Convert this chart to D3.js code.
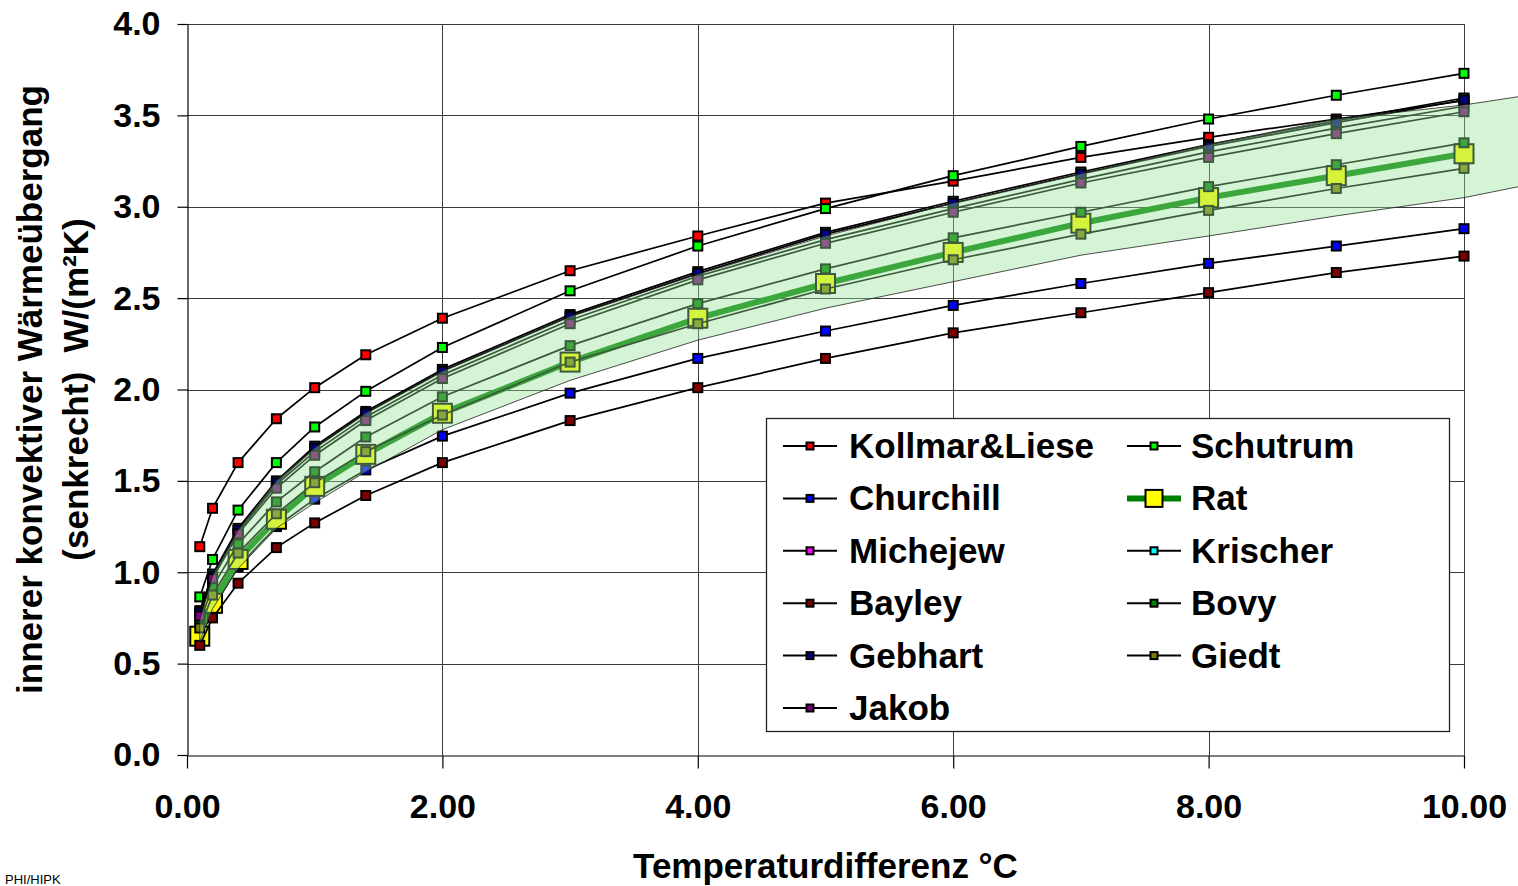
<!DOCTYPE html>
<html><head><meta charset="utf-8">
<script src="https://cdn.jsdelivr.net/npm/d3@7"></script>
<style>
html,body{margin:0;padding:0;background:#fff;overflow:hidden}
svg{display:block}
text{font-family:"Liberation Sans",Arial,sans-serif}
</style></head><body>
<svg id="chart" width="1518" height="886"></svg>
<script>
// ---------- data ----------
const xValues = [0.1, 0.2, 0.4, 0.7, 1.0, 1.4, 2, 3, 4, 5, 6, 7, 8, 9, 10];

const kollmarLiese = [1.14, 1.35, 1.60, 1.84, 2.01, 2.19, 2.39, 2.65, 2.84, 3.02, 3.14, 3.27, 3.38, 3.48, 3.58];
const schutrum     = [0.865, 1.07, 1.34, 1.60, 1.795, 1.99, 2.23, 2.54, 2.785, 2.99, 3.17, 3.33, 3.48, 3.61, 3.73];
const churchill    = [0.64, 0.80, 1.03, 1.25, 1.40, 1.56, 1.745, 1.98, 2.17, 2.32, 2.46, 2.58, 2.69, 2.785, 2.88];
const rat          = [0.65, 0.83, 1.07, 1.29, 1.47, 1.645, 1.87, 2.15, 2.39, 2.58, 2.75, 2.91, 3.05, 3.17, 3.29];
const michejew     = [0.77, 0.97, 1.22, 1.48, 1.66, 1.85, 2.08, 2.38, 2.62, 2.82, 2.99, 3.15, 3.30, 3.43, 3.55];
const krischer     = [0.79, 0.99, 1.24, 1.50, 1.69, 1.88, 2.11, 2.41, 2.645, 2.86, 3.03, 3.19, 3.34, 3.47, 3.595];
const bayley       = [0.60, 0.75, 0.94, 1.135, 1.27, 1.42, 1.60, 1.83, 2.01, 2.17, 2.31, 2.42, 2.53, 2.64, 2.73];
const bovy         = [0.73, 0.92, 1.155, 1.385, 1.55, 1.74, 1.96, 2.24, 2.47, 2.66, 2.83, 2.97, 3.11, 3.23, 3.35];
const gebhart      = [0.78, 0.98, 1.23, 1.49, 1.68, 1.87, 2.10, 2.40, 2.635, 2.85, 3.02, 3.18, 3.33, 3.46, 3.585];
const giedt        = [0.695, 0.875, 1.105, 1.32, 1.49, 1.66, 1.86, 2.15, 2.36, 2.55, 2.71, 2.85, 2.98, 3.10, 3.21];
const jakob        = [0.76, 0.965, 1.21, 1.46, 1.64, 1.83, 2.06, 2.36, 2.60, 2.80, 2.97, 3.13, 3.27, 3.40, 3.52];

// shaded range band (extends past the last category)
const bandX     = [0.1, 0.2, 0.4, 0.7, 1.0, 1.4, 2, 3, 4, 5, 6, 7, 8, 9, 10, 10.5];
const bandUpper = [0.74, 0.98, 1.23, 1.50, 1.68, 1.87, 2.10, 2.40, 2.63, 2.84, 3.02, 3.18, 3.34, 3.48, 3.557, 3.61];
const bandLower = [0.62, 0.80, 1.02, 1.24, 1.38, 1.55, 1.78, 2.05, 2.27, 2.445, 2.59, 2.735, 2.84, 2.95, 3.05, 3.12];

const yTicks = [0, 0.5, 1.0, 1.5, 2.0, 2.5, 3.0, 3.5, 4.0];
const xTicks = [0, 2, 4, 6, 8, 10];

const seriesNames  = ["Kollmar&Liese", "Schutrum", "Churchill", "Rat", "Michejew", "Krischer", "Bayley", "Bovy", "Gebhart", "Giedt", "Jakob"];
const seriesValues = [kollmarLiese, schutrum, churchill, rat, michejew, krischer, bayley, bovy, gebhart, giedt, jakob];
const seriesColors = ["#ff0000", "#00ff00", "#0000ff", "#ffff00", "#ff00ff", "#00ffff", "#800000", "#008000", "#000080", "#808000", "#800080"];
const legendCol1 = ["Kollmar&Liese", "Churchill", "Michejew", "Bayley", "Gebhart", "Jakob"];
const legendCol2 = ["Schutrum", "Rat", "Krischer", "Bovy", "Giedt"];

const xTitle = "Temperaturdifferenz °C";
const yTitle1 = "innerer konvektiver Wärmeübergang";
const yTitle2 = "(senkrecht)  W/(m²K)";
const footnote = "PHI/HIPK";

// ---------- layout ----------
const svg = d3.select("#chart");
const L = 187, R = 1464, T = 24, B = 755;
const x = d3.scaleLinear().domain([0, 10]).range([L, R]);
const y = d3.scaleLinear().domain([0, 4]).range([B, T]);

// gridlines
const grid = svg.append("g").attr("stroke", "#3a3a3a").attr("stroke-width", 1);
grid.selectAll(".hg").data(yTicks.filter(d => d > 0)).join("line")
  .attr("x1", L).attr("x2", R).attr("y1", d => Math.round(y(d)) + 0.5).attr("y2", d => Math.round(y(d)) + 0.5);
grid.selectAll(".vg").data(xTicks.filter(d => d > 0)).join("line")
  .attr("y1", T).attr("y2", B).attr("x1", d => Math.round(x(d)) + 0.5).attr("x2", d => Math.round(x(d)) + 0.5);

// axes
const yAxis = svg.append("g").attr("transform", `translate(${L + 0.5},0)`)
  .call(d3.axisLeft(y).tickValues(yTicks).tickFormat(d3.format(".1f")).tickSize(10).tickSizeOuter(0).tickPadding(17));
const xAxis = svg.append("g").attr("transform", `translate(0,${B + 0.5})`)
  .call(d3.axisBottom(x).tickValues(xTicks).tickFormat(d3.format(".2f")).tickSize(13).tickSizeOuter(0).tickPadding(25));
[yAxis, xAxis].forEach(a => {
  a.select(".domain").attr("stroke", "#000").attr("stroke-width", 1.2);
  a.selectAll(".tick line").attr("stroke", "#000").attr("stroke-width", 1.2);
  a.selectAll(".tick text").attr("fill", "#000").style("font-size", "34px").style("font-weight", "bold")
    .style("font-family", '"Liberation Sans", Arial, sans-serif');
});

// series
const line = d3.line().x((d, i) => x(xValues[i])).y(d => y(d));
seriesNames.forEach((name, si) => {
  const vals = seriesValues[si];
  const isRat = name === "Rat";
  const g = svg.append("g");
  g.append("path").datum(vals).attr("d", line).attr("fill", "none")
    .attr("stroke", isRat ? "#008000" : "#000")
    .attr("stroke-width", isRat ? 6 : 1.7).attr("stroke-linejoin", "round");
  const s = isRat ? 19 : 9;
  g.selectAll("rect").data(vals).join("rect")
    .attr("x", (d, i) => x(xValues[i]) - s / 2).attr("y", d => y(d) - s / 2)
    .attr("width", s).attr("height", s)
    .attr("fill", seriesColors[si]).attr("stroke", "#000").attr("stroke-width", 2);
});

// band overlay
const area = d3.area().x((d, i) => x(bandX[i])).y0((d, i) => y(bandLower[i])).y1(d => y(d));
svg.append("path").datum(bandUpper).attr("d", area)
  .attr("fill", "rgb(150,225,150)").attr("fill-opacity", 0.4)
  .attr("stroke", "#222").attr("stroke-width", 1).attr("stroke-opacity", 0.8);

// legend
const lg = svg.append("g");
lg.append("rect").attr("x", 766.5).attr("y", 418.5).attr("width", 683).attr("height", 313)
  .attr("fill", "#fff").attr("stroke", "#222").attr("stroke-width", 1.3);
const rowY = i => 446 + i * 52.4;
function legendItem(name, cx, tx, cy) {
  const si = seriesNames.indexOf(name);
  const isRat = name === "Rat";
  lg.append("line").attr("x1", cx - 27).attr("x2", cx + 27).attr("y1", cy).attr("y2", cy)
    .attr("stroke", isRat ? "#008000" : "#000").attr("stroke-width", isRat ? 6 : 2);
  const s = isRat ? 17 : 7;
  lg.append("rect").attr("x", cx - s / 2).attr("y", cy - s / 2).attr("width", s).attr("height", s)
    .attr("fill", seriesColors[si]).attr("stroke", "#000").attr("stroke-width", 2);
  lg.append("text").attr("x", tx).attr("y", cy + 12).text(name)
    .style("font-size", "35px").style("font-weight", "bold").attr("fill", "#000");
}
legendCol1.forEach((n, i) => legendItem(n, 810, 849, rowY(i)));
legendCol2.forEach((n, i) => legendItem(n, 1154, 1191, rowY(i)));

// titles
svg.append("text").attr("x", (L + R) / 2).attr("y", 878).attr("text-anchor", "middle")
  .style("font-size", "35px").style("font-weight", "bold").text(xTitle);
svg.append("text").attr("transform", `translate(42,${(T + B) / 2}) rotate(-90)`).attr("text-anchor", "middle")
  .style("font-size", "35px").style("font-weight", "bold").text(yTitle1);
svg.append("text").attr("transform", `translate(88,${(T + B) / 2}) rotate(-90)`).attr("text-anchor", "middle")
  .style("font-size", "35px").style("font-weight", "bold").style("white-space", "pre").text(yTitle2);
svg.append("text").attr("x", 5).attr("y", 884).style("font-size", "13px").attr("fill", "#000").text(footnote);
</script>
</body></html>
